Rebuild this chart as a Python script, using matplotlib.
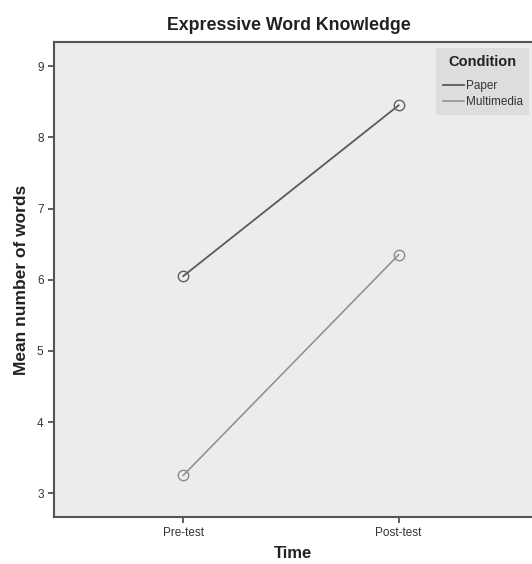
import numpy as np
import matplotlib
matplotlib.use('Agg')
import matplotlib.pyplot as plt

plt.rcParams['font.family'] = ['Liberation Sans', 'DejaVu Sans']

times = ['Pre-test', 'Post-test']
conditions = ['Paper', 'Multimedia']
paper = [6.05, 8.45]
multimedia = [3.25, 6.35]
yticks = [3, 4, 5, 6, 7, 8, 9]

fig = plt.figure(figsize=(5.32, 5.64), dpi=100)
ax = fig.add_axes([0.1015, 0.0833, 0.9, 0.8422])
ax.set_facecolor('#ececec')

pos = np.arange(len(times))
ax.plot(pos, paper, color='#5a5a5a', lw=1.3, marker='o', ms=7.5,
        mfc='none', mec='#606060', mew=1.0, label=conditions[0])
ax.plot(pos, multimedia, color='#8c8c8c', lw=1.1, marker='o', ms=7.5,
        mfc='none', mec='#8c8c8c', mew=1.0, label=conditions[1])

ax.set_xlim(-0.6, 1.623)
ax.set_ylim(2.665, 9.34)
ax.set_xticks(pos)
ax.set_xticklabels(times)
ax.set_yticks(yticks)
ax.tick_params(axis='both', direction='out', length=4, width=1.2,
               color='#444444', labelsize=8.5, labelcolor='#333333')

for s in ['left', 'bottom', 'top']:
    ax.spines[s].set_color('#555555')
    ax.spines[s].set_linewidth(1.5)
ax.spines['right'].set_visible(False)

ax.set_xlabel('Time', fontsize=12, fontweight='bold', color='#222222', labelpad=5)
ax.set_ylabel('Mean number of words', fontsize=12.5, fontweight='bold', color='#222222', labelpad=6)
fig.text(289 / 532, 1 - 26 / 564, 'Expressive Word Knowledge', ha='center', va='center',
         fontsize=12.8, fontweight='bold', color='#222222')

leg = ax.legend(title='Condition', loc='upper right', bbox_to_anchor=(0.997, 0.992),
                fontsize=8.5, frameon=True, fancybox=False, handlelength=1.8,
                handletextpad=0.12, borderpad=0.55, labelspacing=0.3,
                borderaxespad=0.2)
# more room between the title and the entries
leg._legend_box.sep = 8.5
leg.get_title().set_fontweight('bold')
leg.get_title().set_fontsize(10.5)
leg.get_title().set_color('#222222')
leg.get_frame().set_facecolor('#dddddd')
leg.get_frame().set_edgecolor('none')
leg.get_frame().set_alpha(1)
for h in leg.legend_handles:
    h.set_marker('')
for t in leg.get_texts():
    t.set_color('#333333')

fig.savefig('out.png', dpi=100)
